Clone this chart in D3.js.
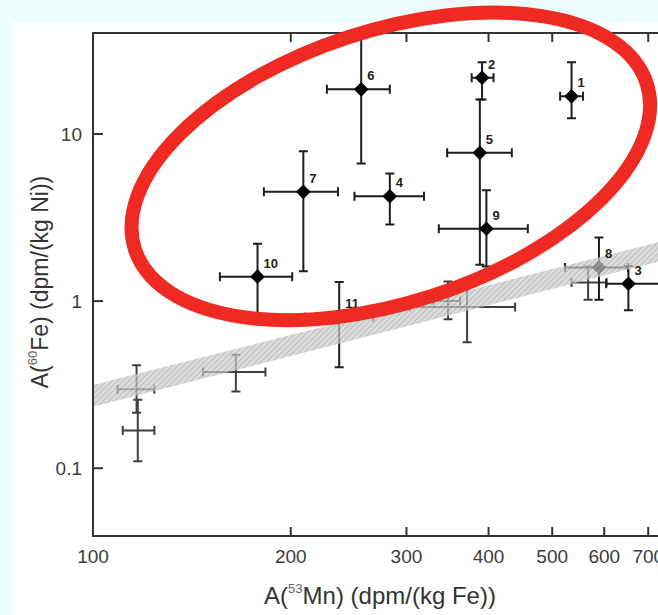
<!DOCTYPE html>
<html>
<head>
<meta charset="utf-8">
<script src="https://cdn.jsdelivr.net/npm/d3@7/dist/d3.min.js"></script>
<style>
  html, body { margin:0; padding:0; background:#edfcfc; }
  svg { display:block; font-family:"Liberation Sans", Arial, sans-serif; }
</style>
</head>
<body>
<svg id="chart" width="658" height="615"></svg>
<script>
// Values. Mn-53 in dpm/(kg Fe), Fe-60 in dpm/(kg Ni).

// numbered meteorites (black markers)
var LAB_ID  = ['1','2','3','4','5','6','7','8','9','10','11'];
var LAB_MN  = [535, 391, 653, 283, 388, 256, 209, 589, 397, 178, 237];
var LAB_MNL = [514, 377, 604, 250, 346, 227, 182, 523, 336, 156, 210];
var LAB_MNH = [557, 407, 783, 319, 434, 283, 236, 652, 459, 201, 267];
var LAB_FE  = [16.8, 21.7, 1.27, 4.24, 7.72, 18.5, 4.51, 1.59, 2.71, 1.40, 0.80];
var LAB_FEL = [12.4, 16.1, 0.88, 2.87, 1.65, 6.66, 1.51, 1.02, 1.61, 0.80, 0.402];
var LAB_FEH = [26.9, 26.9, 1.62, 5.80, 16.1, 40.0, 7.89, 2.40, 4.61, 2.20, 1.30];

// un-numbered meteorites (grey crosses, no marker)
var UN_MN  = [165, 116.5, 117, 371, 347, 567];
var UN_MNL = [147, 109, 111, 304, 330, 535];
var UN_MNH = [183, 124, 124, 439, 362, 605];
var UN_FE  = [0.377, 0.297, 0.168, 0.923, 1.0, 1.29];
var UN_FEL = [0.288, 0.215, 0.110, 0.567, 0.78, 1.02];
var UN_FEH = [0.478, 0.413, 0.257, 1.29, 1.31, 1.61];

// hatched production band
var BAND_MN = [100, 800];
var BAND_LO = [0.233, 1.90];
var BAND_HI = [0.315, 2.48];

// ellipse annotation centre (data units)
var ELL_MN = 284, ELL_FE = 6.4;

var X_TICKS = [100, 200, 300, 400, 500, 600, 700, 800, 900, 1000];
var X_LABELS = [100, 200, 300, 400, 500, 600, 700];
var Y_TICKS = [0.1, 1, 10];

var svg = d3.select('#chart');
var L = 93, T = 33, B = 536, R = 750;

var x = d3.scaleLog().domain([100, 1000]).range([L, R]);
var y = d3.scaleLog().domain([0.0393, 40.2]).range([B, T]);

// white panel
svg.append('rect').attr('x', 13).attr('y', 22).attr('width', 660).attr('height', 600).attr('fill', '#fff');

var defs = svg.append('defs');
defs.append('clipPath').attr('id', 'plotclip')
  .append('rect').attr('x', L).attr('y', T).attr('width', R - L).attr('height', B - T);
var pat = defs.append('pattern').attr('id', 'hatch').attr('patternUnits', 'userSpaceOnUse')
  .attr('width', 4).attr('height', 4).attr('patternTransform', 'rotate(45)');
pat.append('rect').attr('width', 4).attr('height', 4).attr('fill', '#cfcfcf');
pat.append('line').attr('x1', 0).attr('y1', 0).attr('x2', 0).attr('y2', 4)
  .attr('stroke', '#989898').attr('stroke-width', 1.6);

var plot = svg.append('g').attr('clip-path', 'url(#plotclip)');

function crosses(g, mn, mnl, mnh, fe, fel, feh, col){
  var cap = 4.5;
  mn.forEach(function(v, i){
    var cx = x(v), cy = y(fe[i]);
    var xl = x(mnl[i]), xh = x(mnh[i]), yl = y(fel[i]), yh = y(feh[i]);
    var p = 'M'+xl+','+cy+'H'+xh +
            'M'+xl+','+(cy-cap)+'V'+(cy+cap) + 'M'+xh+','+(cy-cap)+'V'+(cy+cap) +
            'M'+cx+','+yl+'V'+yh +
            'M'+(cx-cap)+','+yl+'H'+(cx+cap) + 'M'+(cx-cap)+','+yh+'H'+(cx+cap);
    g.append('path').attr('d', p).attr('fill', 'none').attr('stroke', col).attr('stroke-width', 2);
  });
}

crosses(plot.append('g'), UN_MN, UN_MNL, UN_MNH, UN_FE, UN_FEL, UN_FEH, '#404040');
crosses(plot.append('g'), LAB_MN, LAB_MNL, LAB_MNH, LAB_FE, LAB_FEL, LAB_FEH, '#1e1e1e');

plot.append('g').selectAll('path').data(LAB_MN).join('path')
  .attr('d', d3.symbol(d3.symbolSquare, 80))
  .attr('transform', function(d, i){ return 'translate('+x(d)+','+y(LAB_FE[i])+') rotate(45)'; })
  .attr('fill', '#000').attr('stroke', '#000').attr('stroke-width', 1.5).attr('stroke-linejoin', 'round');

// band over the points, as in the original
var band = BAND_MN.map(function(v, i){ return { mn: v, lo: BAND_LO[i], hi: BAND_HI[i] }; });
plot.append('path').datum(band)
  .attr('d', d3.area().x(function(d){ return x(d.mn); })
    .y0(function(d){ return y(d.lo); }).y1(function(d){ return y(d.hi); }))
  .attr('fill', 'url(#hatch)').attr('opacity', 0.72);

plot.append('g').selectAll('text').data(LAB_ID).join('text')
  .attr('x', function(d, i){ return x(LAB_MN[i]) + 6; })
  .attr('y', function(d, i){ return y(LAB_FE[i]) - 9; })
  .attr('font-size', 13).attr('font-weight', 'bold').attr('fill', '#222')
  .text(function(d){ return d; });

// frame and ticks
var frame = svg.append('g').attr('stroke', '#333').attr('stroke-width', 2).attr('fill', 'none');
frame.append('path').attr('d', 'M'+R+','+T+'H'+L+'V'+B+'H'+R);
frame.selectAll('.xb').data(X_TICKS.slice(1)).join('path')
  .attr('d', function(d){ return 'M'+x(d)+','+B+'v-9M'+x(d)+','+T+'v9'; });
frame.selectAll('.yt').data(Y_TICKS).join('path')
  .attr('d', function(d){ return 'M'+L+','+y(d)+'h10'; });

svg.append('g').selectAll('text').data(X_LABELS).join('text')
  .attr('x', function(d){ return x(d); }).attr('y', 563)
  .attr('text-anchor', 'middle').attr('font-size', 19).attr('fill', '#3c3c3c')
  .text(function(d){ return d; });
svg.append('g').selectAll('text').data(Y_TICKS).join('text')
  .attr('x', 82).attr('y', function(d){ return y(d) + 7; })
  .attr('text-anchor', 'end').attr('font-size', 19).attr('fill', '#3c3c3c')
  .text(function(d){ return d; });

function title(g, pre, sup, post){
  g.append('tspan').text(pre);
  g.append('tspan').attr('font-size', 13).attr('dy', -11).attr('fill', '#666').text(sup);
  g.append('tspan').attr('dy', 11).text(post);
}
var xt = svg.append('text').attr('x', 380).attr('y', 604).attr('text-anchor', 'middle')
  .attr('font-size', 24).attr('fill', '#333');
title(xt, 'A(', '53', 'Mn) (dpm/(kg Fe))');
var yt = svg.append('text').attr('transform', 'translate(48,282) rotate(-90)').attr('text-anchor', 'middle')
  .attr('font-size', 23).attr('fill', '#333');
title(yt, 'A(', '60', 'Fe) (dpm/(kg Ni))');

// red ellipse annotation
svg.append('ellipse')
  .attr('cx', x(ELL_MN)).attr('cy', y(ELL_FE)).attr('rx', 269).attr('ry', 136)
  .attr('transform', 'rotate(-18,'+x(ELL_MN)+','+y(ELL_FE)+')')
  .attr('fill', 'none').attr('stroke', '#ef2a22').attr('stroke-width', 14);
</script>
</body>
</html>
